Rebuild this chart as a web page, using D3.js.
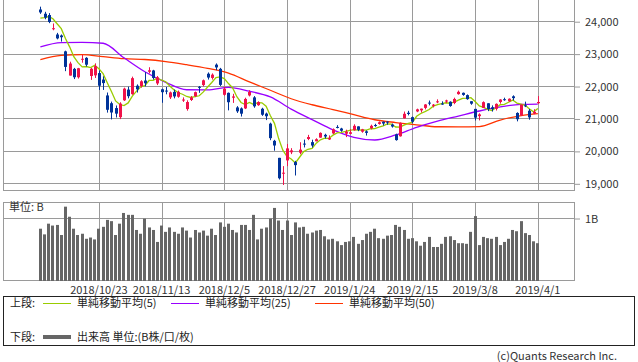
<!DOCTYPE html>
<html>
<head>
<meta charset="utf-8">
<script src="https://cdn.jsdelivr.net/npm/d3@7"></script>
<style>
  body { margin: 0; background: #fff; }
  text { font-family: "Noto Sans CJK JP", "DejaVu Sans", sans-serif; }
</style>
</head>
<body>
<div id="chart"></div>
<script>
// ----------------------------------
// DATA
// ----------------------------------
const dates = [
  "2018/10/2","2018/10/3","2018/10/4","2018/10/5","2018/10/9","2018/10/10","2018/10/11","2018/10/12","2018/10/15","2018/10/16","2018/10/17","2018/10/18","2018/10/19","2018/10/22","2018/10/23","2018/10/24","2018/10/25","2018/10/26","2018/10/29","2018/10/30","2018/10/31",
  "2018/11/1","2018/11/2","2018/11/5","2018/11/6","2018/11/7","2018/11/8","2018/11/9","2018/11/12","2018/11/13","2018/11/14","2018/11/15","2018/11/16","2018/11/19","2018/11/20","2018/11/21","2018/11/22","2018/11/26","2018/11/27","2018/11/28","2018/11/29","2018/11/30",
  "2018/12/3","2018/12/4","2018/12/5","2018/12/6","2018/12/7","2018/12/10","2018/12/11","2018/12/12","2018/12/13","2018/12/14","2018/12/17","2018/12/18","2018/12/19","2018/12/20","2018/12/21","2018/12/25","2018/12/26","2018/12/27","2018/12/28",
  "2019/1/4","2019/1/7","2019/1/8","2019/1/9","2019/1/10","2019/1/11","2019/1/15","2019/1/16","2019/1/17","2019/1/18","2019/1/21","2019/1/22","2019/1/23","2019/1/24","2019/1/25","2019/1/28","2019/1/29","2019/1/30","2019/1/31",
  "2019/2/1","2019/2/4","2019/2/5","2019/2/6","2019/2/7","2019/2/8","2019/2/12","2019/2/13","2019/2/14","2019/2/15","2019/2/18","2019/2/19","2019/2/20","2019/2/21","2019/2/22","2019/2/25","2019/2/26","2019/2/27","2019/2/28",
  "2019/3/1","2019/3/4","2019/3/5","2019/3/6","2019/3/7","2019/3/8","2019/3/11","2019/3/12","2019/3/13","2019/3/14","2019/3/15","2019/3/18","2019/3/19","2019/3/20","2019/3/22","2019/3/25","2019/3/26","2019/3/27","2019/3/28","2019/3/29",
  "2019/4/1"
];

const open = [
  24361,24230,24190,23770,23590,23560,23070,22323,22530,22270,22820,22870,22310,22330,22400,22200,21710,21470,21320,21040,21560,
  21890,21750,22010,22000,22170,22440,22480,22080,21900,21860,21650,21820,21670,21560,21290,21570,21690,21975,22030,22380,22250,
  22660,22530,21730,21790,21640,21340,21310,21310,21710,21650,21410,21300,21150,20840,20310,19785,19302,19706,19957,
  19655,19944,20224,20366,20270,20296,20409,20495,20352,20538,20739,20690,20530,20526,20636,20756,20592,20603,20701,
  20797,20831,20899,20904,20811,20510,20450,21003,21176,21040,21217,21250,21326,21489,21390,21526,21460,21521,21516,
  21477,21750,21791,21720,21531,21295,21071,21326,21468,21344,21297,21509,21594,21528,21683,21170,21096,21404,21239,21150,
  21470
];
const high = [
  24448,24290,24250,23930,23640,23590,23090,22751,22560,22560,22960,22890,22560,22700,22480,22300,21800,21520,21400,21500,21950,
  21980,22290,22050,22180,22430,22580,22500,22310,21920,21970,21830,21890,21860,21650,21560,21690,21830,22000,22200,22420,22390,
  22698,22560,21980,21800,21760,21380,21340,21640,21870,21690,21530,21330,21180,20870,20340,19785,19530,20211,20084,
  19692,20266,20347,20494,20345,20389,20571,20529,20479,20693,20793,20712,20653,20671,20820,20756,20679,20632,20808,
  20836,20908,20906,20909,20844,20531,20877,21213,21235,21060,21302,21303,21443,21553,21445,21590,21528,21578,21528,
  21641,21860,21800,21741,21531,21295,21159,21527,21468,21403,21463,21595,21641,21619,21713,21190,21428,21519,21294,21285,
  21690
];
const low = [
  24226,24060,23940,23720,23440,23370,22459,22323,22215,22230,22720,22600,22190,22250,21880,21880,21180,20971,21030,20980,21540,
  21620,21730,21800,21950,21990,22390,22200,22030,21484,21745,21600,21620,21640,21510,21240,21540,21660,21790,21990,22200,22200,
  22490,22000,21700,21250,21480,21170,21060,21290,21680,21330,21390,21080,20950,20330,20006,19117,18948,19530,19900,
  19241,19896,20106,20331,20101,20294,20406,20381,20338,20518,20695,20590,20425,20509,20624,20608,20560,20473,20663,
  20743,20810,20782,20806,20718,20315,20440,20999,21096,20853,21194,21182,21279,21404,21341,21471,21421,21473,21361,
  21441,21734,21700,21577,21422,20938,20940,21326,21226,21213,21246,21457,21544,21516,21555,20911,21075,21351,20962,21133,
  21450
];
const close = [
  24270,24110,23975,23783,23469,23506,22590,22694,22271,22549,22841,22658,22532,22614,22010,22091,21268,21184,21149,21457,21920,
  21687,22243,21898,22147,22085,22486,22250,22269,21810,21846,21803,21680,21821,21583,21507,21646,21812,21952,22177,22262,22351,
  22574,22036,21919,21501,21679,21219,21148,21602,21816,21374,21506,21115,21068,20392,20166,19155,19327,20077,20015,
  19561,20038,20204,20427,20164,20360,20555,20443,20402,20666,20719,20622,20593,20574,20773,20649,20664,20556,20773,
  20788,20883,20844,20874,20751,20333,20864,21144,21139,20900,21281,21302,21431,21464,21425,21528,21449,21556,21385,
  21602,21822,21726,21596,21456,21025,21125,21503,21290,21287,21450,21584,21566,21608,21627,20977,21428,21378,21033,21205,
  21509
];
// closes of the four sessions before the window (for the 5-day average)
const preCloses = [24033, 23796, 24120, 24245];

// volume, billions of shares
const volume = [
  0.83,0.74,0.91,0.88,0.89,0.73,1.18,1.02,0.83,0.73,0.75,0.67,0.69,0.66,0.83,0.86,0.97,0.95,0.73,0.91,1.08,
  1.05,1.05,0.81,0.75,0.99,0.85,0.81,0.62,0.88,0.78,0.85,0.78,0.75,0.85,0.80,0.69,0.81,0.77,0.80,0.72,0.83,
  0.73,0.93,0.86,0.91,0.81,0.77,0.89,0.89,0.81,1.05,0.66,0.83,0.85,0.99,1.16,0.96,0.81,0.96,0.73,
  0.93,0.85,0.86,0.75,0.77,0.80,0.81,0.71,0.66,0.67,0.63,0.57,0.62,0.63,0.70,0.59,0.65,0.75,0.78,
  0.83,0.68,0.67,0.72,0.73,0.89,0.86,0.81,0.67,0.68,0.63,0.56,0.62,0.70,0.54,0.54,0.59,0.70,0.71,
  0.65,0.60,0.60,0.59,0.78,1.03,0.57,0.70,0.68,0.67,0.70,0.57,0.62,0.67,0.81,0.79,0.95,0.76,0.73,0.63,
  0.60
];

// 25 / 50 day averages, read every fifth session
const maDates = ["2018/10/2","2018/10/10","2018/10/17","2018/10/24","2018/10/31","2018/11/7","2018/11/14","2018/11/21","2018/11/29","2018/12/6","2018/12/13","2018/12/20","2018/12/28","2019/1/10","2019/1/18","2019/1/25","2019/2/1","2019/2/8","2019/2/18","2019/2/25","2019/3/4","2019/3/11","2019/3/18","2019/3/26","2019/4/1"];
const ma25 = [23207,23340,23345,23320,22870,22440,22115,21885,21880,21960,21840,21664,21290,20965,20650,20420,20335,20490,20728,20920,21075,21230,21360,21435,21445];
const ma50 = [22818,22945,22972,22907,22843,22818,22756,22658,22546,22400,22130,21870,21608,21423,21275,21115,20960,20874,20805,20745,20740,20750,20950,21090,21150];

const labelDates = ["2018/10/23","2018/11/13","2018/12/5","2018/12/27","2019/1/24","2019/2/15","2019/3/8","2019/4/1"];
const priceTicks = [19000, 20000, 21000, 22000, 23000, 24000];
const volTicks = [1];

// ----------------------------------
// SETUP
// ----------------------------------
const W = 638, H = 362;
const left = 3, right = 574;
const upColor = "#f0124a", downColor = "#003399", gridColor = "#9a9a9a";
const colors = { ma5: "#99cc00", ma25: "#9900ff", ma50: "#ff3300" };

const svg = d3.select("#chart").append("svg")
  .attr("width", W).attr("height", H);

const x = d3.scaleBand().domain(dates).range([37.7, 540.5]).padding(0.28);
const cx = d => x(d) + x.bandwidth() / 2;
const y = d3.scaleLinear().domain([19000, 24000]).range([183.3, 21.2]);
const yv = d3.scaleLinear().domain([0, 1]).range([281, 218]);

const allCloses = preCloses.concat(close);
const rows = dates.map((d, i) => ({
  date: d, o: open[i], h: high[i], l: low[i], c: close[i], v: volume[i],
  ma5: d3.mean(allCloses.slice(i, i + 5))
}));

// ----------------------------------
// PANELS + GRID
// ----------------------------------
const grid = svg.append("g").attr("stroke", gridColor).attr("fill", "none");

// price panel
grid.append("rect").attr("x", left + 0.5).attr("y", -1).attr("width", right - left).attr("height", 191.5);
grid.selectAll(".hp").data(priceTicks).enter().append("line")
  .attr("x1", left).attr("x2", right)
  .attr("y1", d => Math.round(y(d)) + 0.5).attr("y2", d => Math.round(y(d)) + 0.5);
grid.selectAll(".vp").data(labelDates).enter().append("line")
  .attr("x1", d => Math.round(cx(d)) + 0.5).attr("x2", d => Math.round(cx(d)) + 0.5)
  .attr("y1", 0).attr("y2", 190);

// volume panel
grid.append("rect").attr("x", left + 0.5).attr("y", 202.5).attr("width", right - left).attr("height", 78);
grid.selectAll(".hv").data(volTicks).enter().append("line")
  .attr("x1", left).attr("x2", right)
  .attr("y1", d => Math.round(yv(d)) + 0.5).attr("y2", d => Math.round(yv(d)) + 0.5);
grid.selectAll(".vv").data(labelDates).enter().append("line")
  .attr("x1", d => Math.round(cx(d)) + 0.5).attr("x2", d => Math.round(cx(d)) + 0.5)
  .attr("y1", 202).attr("y2", 281);

// ----------------------------------
// AXES
// ----------------------------------
const yAxis = d3.axisRight(y).tickValues(priceTicks).tickSize(6).tickPadding(5)
  .tickFormat(d3.format(","));
const gy = svg.append("g").attr("transform", `translate(${right},0.5)`).call(yAxis);

const vAxis = d3.axisRight(yv).tickValues(volTicks).tickSize(6).tickPadding(5)
  .tickFormat(d => d + "B");
const gv = svg.append("g").attr("transform", `translate(${right},0.5)`).call(vAxis);

const xAxis = d3.axisBottom(x).tickValues(labelDates).tickSize(0).tickPadding(3);
const gx = svg.append("g").attr("transform", "translate(0,283)").call(xAxis);

[gy, gv, gx].forEach(g => {
  g.select(".domain").remove();
  g.selectAll(".tick line").attr("stroke", gridColor);
  g.selectAll("text").attr("fill", "#333").style("font-size", "11px")
    .style("font-family", '"Noto Sans CJK JP", sans-serif');
});

svg.append("text").attr("x", 9).attr("y", 211).attr("fill", "#333")
  .style("font-size", "11px").text("単位: B");

// ----------------------------------
// VOLUME BARS
// ----------------------------------
svg.append("g").selectAll("rect").data(rows).enter().append("rect")
  .attr("x", d => Math.round(cx(d.date) - 1.5))
  .attr("width", 3)
  .attr("y", d => yv(d.v))
  .attr("height", d => yv(0) - yv(d.v))
  .attr("fill", "#666");

// ----------------------------------
// MOVING AVERAGES
// ----------------------------------
const maLine = d3.line().x(d => cx(d.date)).y(d => y(d.v)).curve(d3.curveMonotoneX);
const ma25Rows = maDates.map((d, i) => ({ date: d, v: ma25[i] }));
const ma50Rows = maDates.map((d, i) => ({ date: d, v: ma50[i] }));
const ma5Rows = rows.map(d => ({ date: d.date, v: d.ma5 }));

svg.append("path").datum(ma50Rows).attr("d", maLine)
  .attr("fill", "none").attr("stroke", colors.ma50).attr("stroke-width", 1.3);
svg.append("path").datum(ma25Rows).attr("d", maLine)
  .attr("fill", "none").attr("stroke", colors.ma25).attr("stroke-width", 1.3);
svg.append("path").datum(ma5Rows).attr("d", maLine.curve(d3.curveLinear))
  .attr("fill", "none").attr("stroke", colors.ma5).attr("stroke-width", 1.3);

// ----------------------------------
// CANDLES
// ----------------------------------
const candles = svg.append("g").selectAll("g").data(rows).enter().append("g")
  .attr("fill", d => d.c >= d.o ? upColor : downColor)
  .attr("stroke", d => d.c >= d.o ? upColor : downColor);

candles.append("line")
  .attr("x1", d => Math.round(cx(d.date)) + 0.5).attr("x2", d => Math.round(cx(d.date)) + 0.5)
  .attr("y1", d => y(d.h)).attr("y2", d => y(d.l));

candles.append("rect")
  .attr("stroke", "none")
  .attr("x", d => Math.round(cx(d.date)) - 1)
  .attr("width", 3)
  .attr("y", d => y(Math.max(d.o, d.c)))
  .attr("height", d => Math.max(1, Math.abs(y(d.o) - y(d.c))));

// ----------------------------------
// LEGEND
// ----------------------------------
const legend = svg.append("g").style("font-size", "11px").attr("fill", "#222");
legend.append("rect").attr("x", 3.5).attr("y", 296.5).attr("width", 631).attr("height", 49)
  .attr("fill", "none").attr("stroke", "#222");

legend.append("text").attr("x", 10).attr("y", 307).text("上段:");
const items = [
  { label: "単純移動平均(5)", color: colors.ma5, x: 43 },
  { label: "単純移動平均(25)", color: colors.ma25, x: 171 },
  { label: "単純移動平均(50)", color: colors.ma50, x: 315 }
];
items.forEach(it => {
  legend.append("line").attr("x1", it.x).attr("x2", it.x + 28).attr("y1", 303.5).attr("y2", 303.5)
    .attr("stroke", it.color).attr("stroke-width", 1);
  legend.append("text").attr("x", it.x + 34).attr("y", 307).text(it.label);
});

legend.append("text").attr("x", 10).attr("y", 341).text("下段:");
legend.append("line").attr("x1", 43).attr("x2", 71).attr("y1", 337).attr("y2", 337)
  .attr("stroke", "#666").attr("stroke-width", 4);
legend.append("text").attr("x", 77).attr("y", 341).text("出来高 単位:(B株/口/枚)");

svg.append("text").attr("x", 617).attr("y", 360).attr("text-anchor", "end")
  .attr("fill", "#333").style("font-size", "11px").text("(c)Quants Research Inc.");
</script>
</body>
</html>
